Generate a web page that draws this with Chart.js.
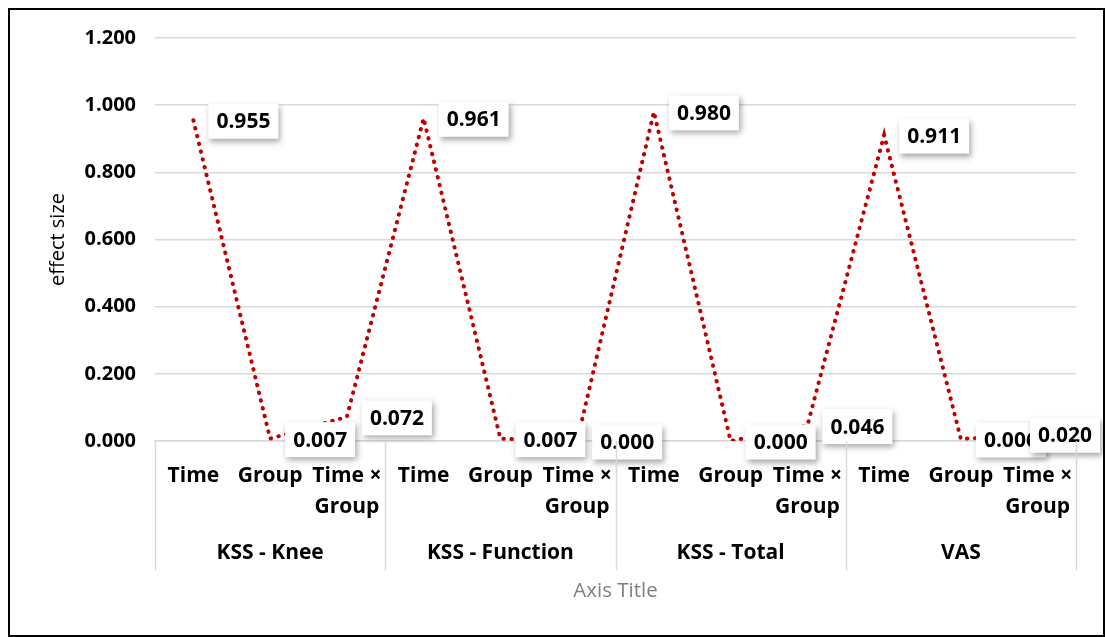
<!DOCTYPE html>
<html>
<head>
<meta charset="utf-8">
<script src="https://cdn.jsdelivr.net/npm/chart.js@4.4.1/dist/chart.umd.min.js"></script>
<style>
  html, body { margin:0; padding:0; background:#fff; }
  #wrap { position:relative; width:1105px; height:637px; overflow:hidden; }
  #frame { position:absolute; left:8px; top:8px; width:1097px; height:629px; box-sizing:border-box; border:2px solid #000; pointer-events:none; }
</style>
</head>
<body>
<div id="wrap">
  <canvas id="chart" width="1105" height="637"></canvas>
  <div id="frame"></div>
</div>
<script>
const categories = ['Time', 'Group', ['Time \u00d7', 'Group'],
                    'Time', 'Group', ['Time \u00d7', 'Group'],
                    'Time', 'Group', ['Time \u00d7', 'Group'],
                    'Time', 'Group', ['Time \u00d7', 'Group']];
const groups = ['KSS - Knee', 'KSS - Function', 'KSS - Total', 'VAS'];
const effectSize = [0.955, 0.007, 0.072, 0.961, 0.007, 0.000, 0.980, 0.000, 0.046, 0.911, 0.006, 0.020];
const yTicks = { min: 0, max: 1.2, step: 0.2 };

const FONT = '"Open Sans", Lato, sans-serif';

// white boxed labels to the right of every point, kept inside the frame
const boxLabels = {
  id: 'boxLabels',
  afterDatasetsDraw(chart) {
    const ctx = chart.ctx;
    const meta = chart.getDatasetMeta(0);
    ctx.save();
    ctx.font = 'bold 21px ' + FONT;
    meta.data.forEach((pt, i) => {
      const txt = effectSize[i].toFixed(3);
      const w = ctx.measureText(txt).width + 16;
      const h = 35;
      let x = pt.x + 15;
      if (x + w > 1100) x = 1100 - w;
      const y = pt.y + 1 - h / 2;
      ctx.shadowColor = 'rgba(0,0,0,0.35)';
      ctx.shadowBlur = 6;
      ctx.shadowOffsetX = 2;
      ctx.shadowOffsetY = 3;
      ctx.fillStyle = '#fff';
      ctx.fillRect(x, y, w, h);
      ctx.shadowColor = 'transparent';
      ctx.fillStyle = '#000';
      ctx.textAlign = 'left';
      ctx.textBaseline = 'middle';
      ctx.fillText(txt, x + 8, y + h / 2 + 1);
    });
    ctx.restore();
  }
};

// second category level: group names and separators under the axis
const groupAxis = {
  id: 'groupAxis',
  afterDraw(chart) {
    const ctx = chart.ctx;
    const xs = chart.scales.x;
    const top = chart.chartArea.bottom;
    ctx.save();
    ctx.strokeStyle = '#d9d9d9';
    ctx.lineWidth = 1.5;
    for (let g = 0; g <= groups.length; g++) {
      const bx = Math.round(xs.getPixelForValue(g * 3 - 0.5)) + 0.5;
      ctx.beginPath();
      ctx.moveTo(bx, top);
      ctx.lineTo(bx, 570);
      ctx.stroke();
    }
    ctx.font = 'bold 21px ' + FONT;
    ctx.fillStyle = '#000';
    ctx.textAlign = 'center';
    ctx.textBaseline = 'middle';
    groups.forEach((name, g) => {
      const cx = (xs.getPixelForValue(g * 3 - 0.5) + xs.getPixelForValue(g * 3 + 2.5)) / 2;
      ctx.fillText(name, cx, 553);
    });
    ctx.restore();
  }
};

new Chart(document.getElementById('chart'), {
  type: 'line',
  data: {
    labels: categories,
    datasets: [{
      label: 'effect size',
      data: effectSize,
      borderColor: '#c00000',
      borderWidth: 4,
      borderDash: [0.5, 7.5],
      borderCapStyle: 'round',
      pointRadius: 0,
      tension: 0,
      fill: false
    }]
  },
  options: {
    responsive: false,
    animation: false,
    layout: { padding: { left: 42, right: 29, top: 38, bottom: 30 } },
    plugins: { legend: { display: false }, tooltip: { enabled: false } },
    scales: {
      x: {
        offset: true,
        grid: { display: false, drawTicks: false },
        border: { display: true, color: '#d9d9d9', width: 1.5 },
        ticks: {
          autoSkip: false, maxRotation: 0, padding: 19, color: '#000',
          font: { family: FONT, size: 21, weight: 'bold', lineHeight: 1.48 }
        },
        title: { display: true, text: 'Axis Title', color: '#7f7f7f', font: { family: FONT, size: 20.5 } },
        afterFit(s) { s.height = 166; }
      },
      y: {
        min: yTicks.min, max: yTicks.max,
        grid: { color: '#d9d9d9', lineWidth: 1.5, drawTicks: false },
        border: { display: false },
        ticks: {
          stepSize: yTicks.step, padding: 19, color: '#000',
          font: { family: FONT, size: 20, weight: 'bold' },
          callback: v => Number(v).toFixed(3)
        },
        title: { display: true, text: 'effect size', color: '#000', font: { family: FONT, size: 20 } },
        afterFit(s) { s.width = 113; }
      }
    }
  },
  plugins: [boxLabels, groupAxis]
});
</script>
</body>
</html>
